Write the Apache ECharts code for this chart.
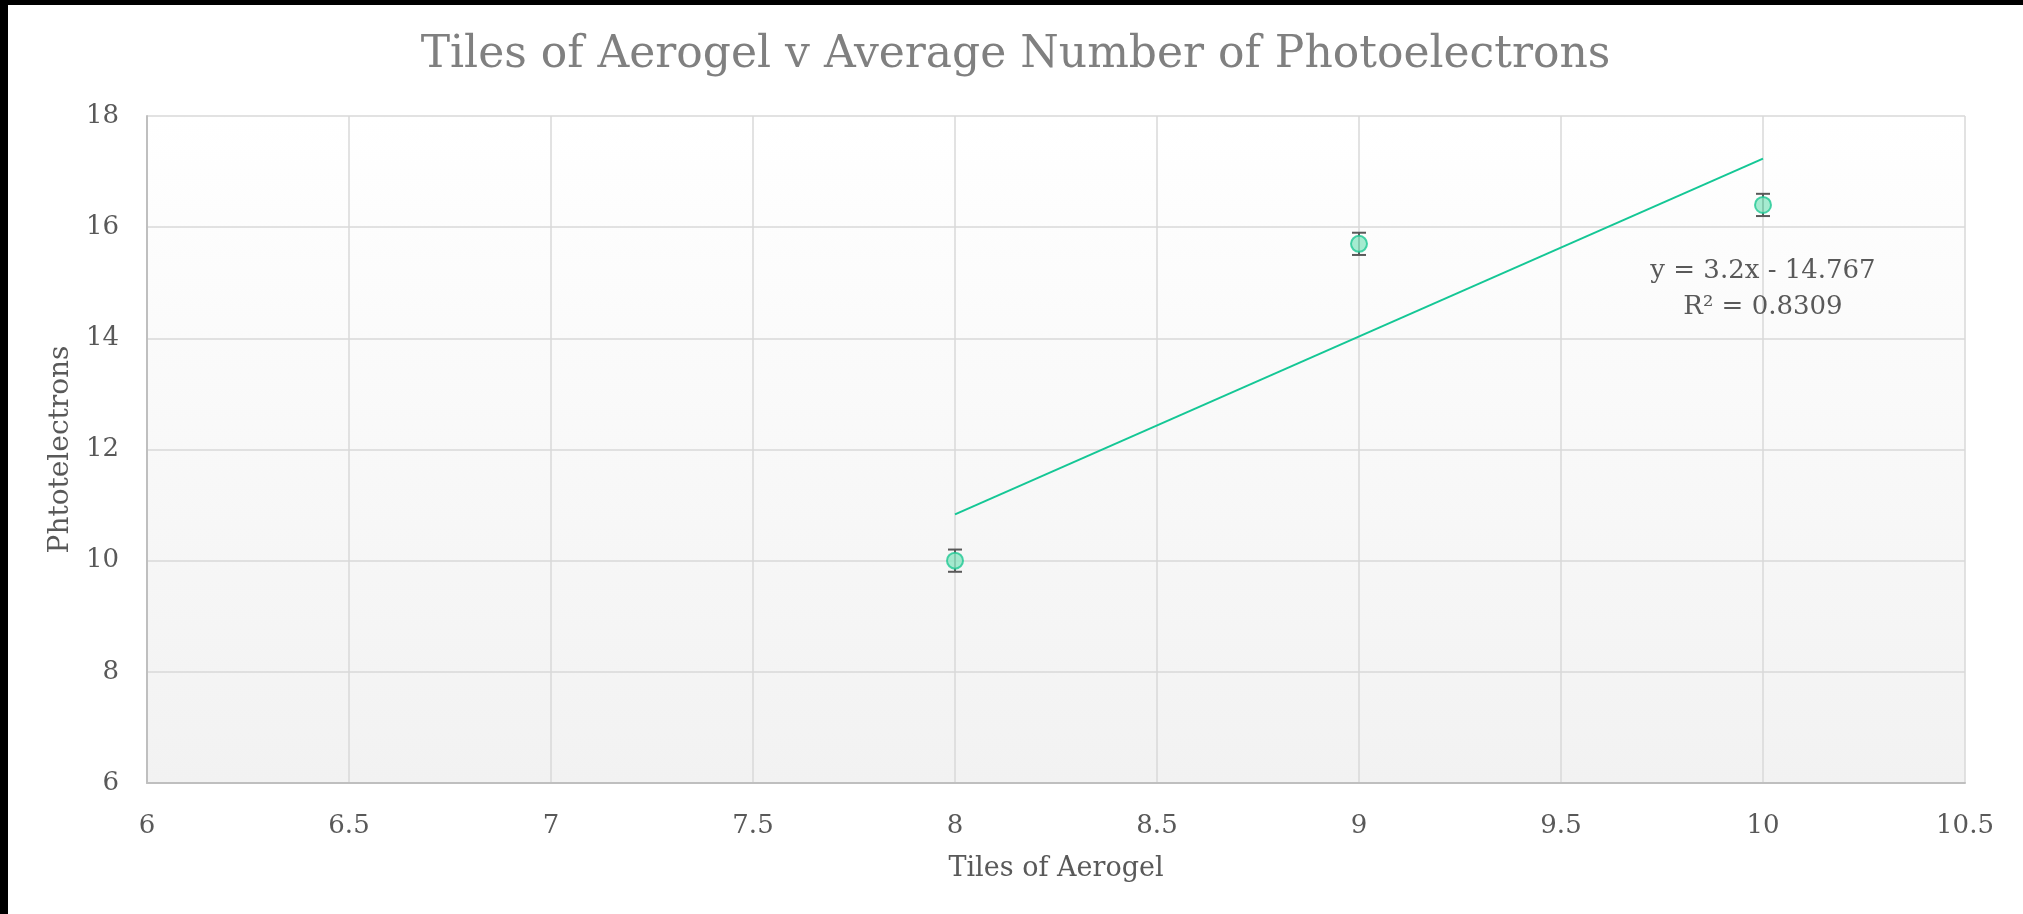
<!DOCTYPE html>
<html>
<head>
<meta charset="utf-8">
<script src="https://cdn.jsdelivr.net/npm/echarts@6/dist/echarts.min.js"></script>
<style>
  html, body { margin: 0; padding: 0; background: #000; width: 2023px; height: 914px; overflow: hidden; }
  #chart { position: absolute; left: 8px; top: 5px; width: 2015px; height: 909px; background: #fff; }
</style>
</head>
<body>
<div id="chart"></div>
<script>
// ---- data ----
const chartTitle = 'Tiles of Aerogel v Average Number of Photoelectrons';
const xAxisName = 'Tiles of Aerogel';
const yAxisName = 'Phtotelectrons';
const tiles = [8, 9, 10];
const photoelectrons = [10.0, 15.7, 16.4];
const errors = [0.2, 0.2, 0.2];
const xTicks = [6, 6.5, 7, 7.5, 8, 8.5, 9, 9.5, 10, 10.5];
const yTicks = [6, 8, 10, 12, 14, 16, 18];

// ---- least squares trendline from data ----
const n = tiles.length;
const mx = tiles.reduce((a, b) => a + b, 0) / n;
const my = photoelectrons.reduce((a, b) => a + b, 0) / n;
let sxy = 0, sxx = 0, syy = 0;
for (let i = 0; i < n; i++) {
  sxy += (tiles[i] - mx) * (photoelectrons[i] - my);
  sxx += (tiles[i] - mx) ** 2;
  syy += (photoelectrons[i] - my) ** 2;
}
const slope = sxy / sxx;
const intercept = my - slope * mx;
const r2 = (sxy * sxy) / (sxx * syy);
const xMin = Math.min(...tiles), xMax = Math.max(...tiles);
const trend = [[xMin, slope * xMin + intercept], [xMax, slope * xMax + intercept]];
const eqText = 'y = ' + (+slope.toFixed(4)) + 'x - ' + Math.abs(intercept).toFixed(3) + '\nR² = ' + r2.toFixed(4);

const points = tiles.map((x, i) => [x, photoelectrons[i]]);
const errData = tiles.map((x, i) => [x, photoelectrons[i] - errors[i], photoelectrons[i] + errors[i]]);

const FONT = 'DejaVu Serif';
const chart = echarts.init(document.getElementById('chart'));
chart.setOption({
  animation: false,
  backgroundColor: '#ffffff',
  title: {
    text: chartTitle,
    left: 'center',
    top: 24,
    textStyle: { fontFamily: FONT, fontSize: 44, fontWeight: 'normal', color: '#808080' }
  },
  grid: {
    left: 139, right: 58, top: 111, bottom: 131,
    show: true, borderWidth: 0,
    backgroundColor: new echarts.graphic.LinearGradient(0, 0, 0, 1, [
      { offset: 0, color: '#ffffff' }, { offset: 1, color: '#f2f2f2' }
    ])
  },
  xAxis: {
    type: 'value', min: xTicks[0], max: xTicks[xTicks.length - 1], interval: 0.5,
    name: xAxisName, nameLocation: 'middle', nameGap: 72,
    nameTextStyle: { fontFamily: FONT, fontSize: 27, color: '#595959' },
    axisLine: { show: true, lineStyle: { color: '#bfbfbf', width: 2 } },
    axisTick: { show: false },
    axisLabel: { fontFamily: FONT, fontSize: 26, color: '#595959', margin: 30, showMinLabel: true, showMaxLabel: true },
    splitLine: { show: true, lineStyle: { color: '#d9d9d9', width: 1.5 } }
  },
  yAxis: {
    type: 'value', min: yTicks[0], max: yTicks[yTicks.length - 1], interval: 2,
    name: yAxisName, nameLocation: 'middle', nameGap: 72,
    nameTextStyle: { fontFamily: FONT, fontSize: 28, color: '#595959' },
    axisLine: { show: true, lineStyle: { color: '#bfbfbf', width: 2 } },
    axisTick: { show: false },
    axisLabel: { fontFamily: FONT, fontSize: 26, color: '#595959', margin: 28 },
    splitLine: { show: true, lineStyle: { color: '#d9d9d9', width: 1.5 } }
  },
  series: [
    {
      type: 'line', data: trend, symbol: 'none', z: 3,
      lineStyle: { color: '#14c795', width: 2 },
      markPoint: {
        symbol: 'circle', symbolSize: 0,
        data: [{ coord: [xMax, 14.88], value: 0 }],
        label: {
          show: true, position: 'inside', formatter: eqText,
          fontFamily: FONT, fontSize: 26, color: '#595959', lineHeight: 36, align: 'center'
        }
      }
    },
    {
      type: 'custom', data: errData, z: 4,
      renderItem: function (params, api) {
        const x = api.value(0);
        const lo = api.coord([x, api.value(1)]);
        const hi = api.coord([x, api.value(2)]);
        const hw = 7;
        const style = { stroke: '#595959', lineWidth: 2 };
        return {
          type: 'group',
          children: [
            { type: 'line', shape: { x1: lo[0], y1: lo[1], x2: hi[0], y2: hi[1] }, style: style },
            { type: 'line', shape: { x1: lo[0] - hw, y1: lo[1], x2: lo[0] + hw, y2: lo[1] }, style: style },
            { type: 'line', shape: { x1: hi[0] - hw, y1: hi[1], x2: hi[0] + hw, y2: hi[1] }, style: style }
          ]
        };
      }
    },
    {
      type: 'scatter', data: points, z: 5,
      symbol: 'circle', symbolSize: 16,
      itemStyle: { color: '#8fe6c4', borderColor: '#1fc894', borderWidth: 2 }
    }
  ]
});
</script>
</body>
</html>
